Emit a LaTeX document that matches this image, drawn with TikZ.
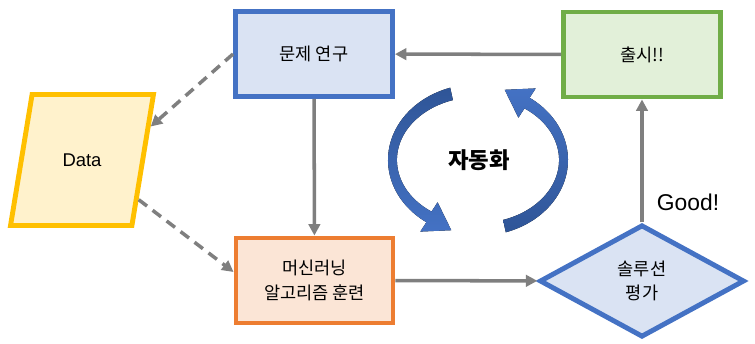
\documentclass[tikz,border=0pt]{standalone}
\usepackage{fontspec}
\setmainfont{Noto Sans CJK KR}
\newfontfamily\latinfont{Liberation Sans}
\usepackage{tikz}
\usetikzlibrary{arrows.meta,shapes.geometric}
\definecolor{bluebd}{HTML}{4472C4}
\definecolor{bluefill}{HTML}{DAE3F3}
\definecolor{bluedark}{HTML}{2F5597}
\definecolor{greenbd}{HTML}{70AD47}
\definecolor{greenfill}{HTML}{E2F0D9}
\definecolor{orangebd}{HTML}{ED7D31}
\definecolor{orangefill}{HTML}{FBE5D6}
\definecolor{yellowbd}{HTML}{FFC000}
\definecolor{yellowfill}{HTML}{FFF2CC}
\definecolor{linegray}{HTML}{7F7F7F}
\tikzset{
  every picture/.style={line join=miter, >={Triangle[length=6.5pt,width=6.5pt]}},
  box/.style={rectangle, line width=2.8pt, minimum width=3.14cm, minimum height=1.7cm, align=center, font=\fontsize{10}{14}\selectfont},
  flow/.style={->, draw=linegray, line width=2pt},
  dashflow/.style={flow, dash pattern=on 6pt off 4pt},
}

\begin{document}
\begin{tikzpicture}[x=0.02cm,y=0.02cm]
\useasboundingbox (0,0) rectangle (755,343);
% steps
\node[box, draw=bluebd, fill=bluefill] (study) at (314,289) {문제 연구};
\node[box, draw=greenbd, fill=greenfill] (release) at (642,288.5) {출시!!};
\node[box, draw=orangebd, fill=orangefill] (train) at (314.5,62.5) {머신러닝\\알고리즘 훈련};
\node[diamond, draw=bluebd, fill=bluefill, line width=2.8pt, minimum width=4.1cm, minimum height=2.12cm, align=center, font=\fontsize{10}{14}\selectfont] (eval) at (642,62) {솔루션\\평가};
\node[trapezium, trapezium left angle=66, trapezium right angle=114, trapezium stretches=true, draw=yellowbd, fill=yellowfill, line width=2.8pt, minimum width=2.86cm, minimum height=2.62cm, font=\latinfont\fontsize{10.5}{12}\selectfont] (data) at (82,183) {Data};
% labels
\node[font=\fontsize{12.7}{15}\selectfont\bfseries] (auto) at (479,183) {자동화};
\node[font=\latinfont\fontsize{13}{15}\selectfont] (good) at (688,141) {Good!};
% connectors
\draw[flow] (release) -- (study);
\draw[flow] (study) -- (train);
\draw[flow] (train) -- (eval);
\draw[flow] (eval) -- (release);
\draw[dashflow] (study.west) -- (data.26);
\draw[dashflow] (data.-35) -- (train.174);
% cycle arrows
\fill[top color=bluedark, bottom color=bluebd] (450.2,255.3) arc[start angle=108, end angle=235, x radius=90, y radius=76]
  -- (420.3,111.4) -- (451.3,112.8) -- (437.6,140.7) -- (431.5,131.4)
  arc[start angle=235, end angle=108, x radius=81, y radius=63] -- cycle;
\fill[top color=bluebd, bottom color=bluedark] (505.8,110.7) arc[start angle=288, end angle=415, x radius=90, y radius=76]
  -- (535.7,254.6) -- (504.7,253.2) -- (518.4,225.3) -- (524.5,234.6)
  arc[start angle=415, end angle=288, x radius=81, y radius=63] -- cycle;
\end{tikzpicture}
\end{document}
